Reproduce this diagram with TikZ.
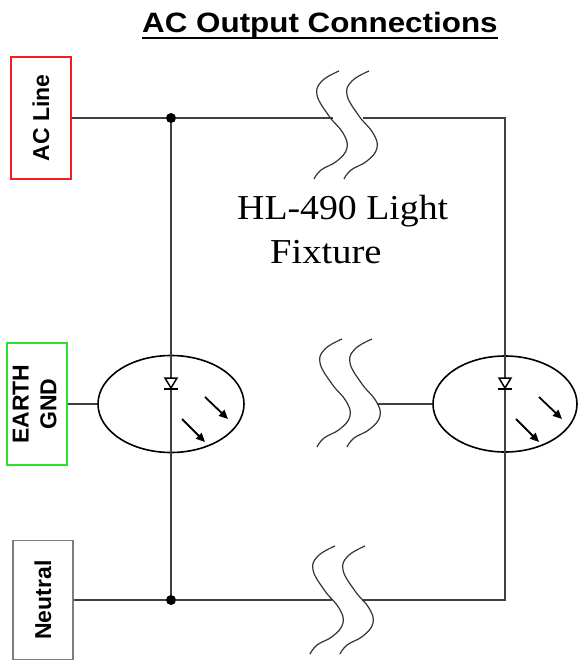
\documentclass[tikz,border=0pt]{standalone}
\usepackage{fontspec}
\setmainfont{Liberation Serif}
\setsansfont{Liberation Sans}
\usepackage{tikz}
\usetikzlibrary{shapes.geometric,arrows.meta}

\definecolor{lineRed}{RGB}{240,30,30}
\definecolor{gndGreen}{RGB}{40,225,40}
\definecolor{neutGray}{RGB}{125,125,125}

% wavy break mark, top end at (#1,#2)
\newcommand{\wirebreak}[2]{%
  \begin{scope}[shift={(#1,#2)}]
    \draw[breakline] plot[smooth,tension=0.7] coordinates
      {(0,0) (-17,10) (-22,24) (-10,45) (4,62) (8,77) (-2,90) (-18,99) (-25,108)};
  \end{scope}}

\begin{document}
\begin{tikzpicture}[x=1pt,y=-1pt,
	wire/.style = {draw=black!75, line width=1.3pt},
	breakline/.style = {draw=black!80, line width=1.2pt},
	termbox/.style = {draw, line width=1.6pt, minimum width=60pt, minimum height=122pt, inner sep=0pt,
		font=\sffamily\bfseries\fontsize{23}{27.6}\selectfont},
	lamp/.style = {draw, ellipse, line width=1.6pt, minimum width=146pt, minimum height=97pt, inner sep=0pt},
	junction/.style = {circle, fill, inner sep=0pt, minimum size=10pt},
	beam/.style = {line width=1.8pt, -{Triangle[length=9pt,width=8pt]}}]
	\useasboundingbox (0,0) rectangle (578,661);

	% title
	\node[anchor=base west, inner sep=0pt, xscale=1.12,
		font=\sffamily\bfseries\fontsize{28}{30}\selectfont] (title) at (142,33) {AC Output Connections};
	\draw[line width=2pt] ([yshift=-5pt]title.base west) -- ([yshift=-5pt]title.base east);

	% terminals
	\node[termbox, draw=lineRed] (acline) at (41,118) {\rotatebox{90}{AC Line}};
	\node[termbox, draw=gndGreen] (earth) at (37,404)
		{\rotatebox{90}{\begin{tabular}{@{}c@{}}EARTH\\GND\end{tabular}}};
	\node[termbox, draw=neutGray, minimum height=119pt] (neutral) at (43,600) {\rotatebox{90}{Neutral}};

	% lamps and junctions
	\node[lamp] (lampL) at (171,404) {};
	\node[lamp, minimum width=144pt, minimum height=96pt] (lampR) at (505,404) {};
	\node[junction] (dotT) at (171,118) {};
	\node[junction] (dotB) at (171,600) {};

	\coordinate (brkTL) at (333,118);
	\coordinate (brkTR) at (363,118);
	\coordinate (brkBL) at (332,600);
	\coordinate (brkBR) at (362,600);
	\coordinate (brkM) at (377,404);
	\coordinate (cornerT) at (505,118);
	\coordinate (cornerB) at (505,600);

	% wires
	\draw[wire] (acline.east) -- (dotT) -- (brkTL);
	\draw[wire] (brkTR) -- (cornerT) -- (cornerB) -- (brkBR);
	\draw[wire] (neutral.east) -- (dotB) -- (brkBL);
	\draw[wire] (dotT) -- (dotB);
	\draw[wire] (earth.east) -- (lampL.west);
	\draw[wire] (brkM) -- (lampR.west);

	% breaks
	\wirebreak{339}{71}
	\wirebreak{369}{71}
	\wirebreak{342}{339}
	\wirebreak{372}{339}
	\wirebreak{335}{546}
	\wirebreak{365}{546}

	% diodes and light
	\foreach \cx in {171,505} {
		\draw[line width=1.5pt, fill=white] (\cx-6,378) -- (\cx+6,378) -- (\cx,388) -- cycle;
		\draw[line width=1.5pt] (\cx-7,389) -- (\cx+7,389);
		\draw[beam] (\cx+34,397) -- (\cx+57,419);
		\draw[beam] (\cx+11,419) -- (\cx+34,442);
	}

	% fixture label
	\node[anchor=base west, inner sep=0pt, xscale=1.08, font=\fontsize{35}{40}\selectfont] (fixname) at (237,219) {HL-490 Light};
	\node[anchor=base west, inner sep=0pt, xscale=1.1, font=\fontsize{35}{40}\selectfont] (fixword) at (270,263) {Fixture};
\end{tikzpicture}
\end{document}
